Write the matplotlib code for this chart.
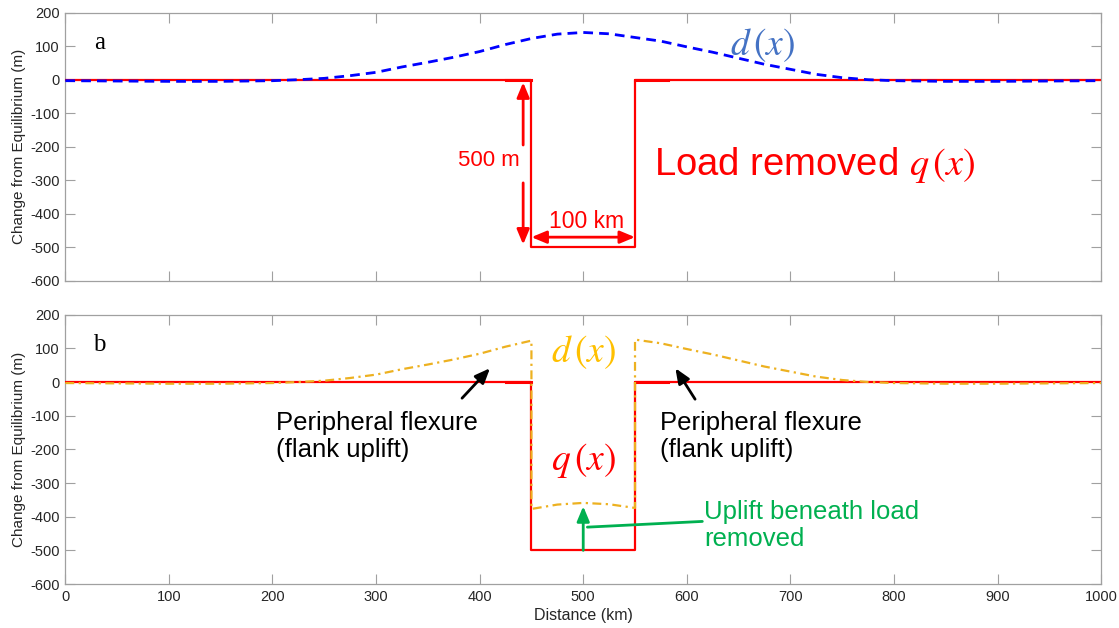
import numpy as np
import matplotlib
matplotlib.use("Agg")
import matplotlib.pyplot as plt

plt.rcParams['font.family'] = ['Liberation Sans', 'DejaVu Sans']
plt.rcParams['mathtext.fontset'] = 'stix'
plt.rcParams['axes.unicode_minus'] = False

# flexural deflection d(x) (km, m)
dist_km = np.array([0, 50, 100, 150, 200, 225, 250, 275, 300, 325, 350, 375, 400, 425, 450,
                    475, 500, 525, 550, 575, 600, 625, 650, 675, 700, 725, 750, 775, 800,
                    850, 900, 950, 1000])
deflection_m = np.array([-3, -4, -5, -5, -3, 0, 4, 12, 22, 38, 52, 67, 84, 105, 123,
                         136, 141, 137, 126, 115, 98, 82, 64, 46, 31, 16, 6, 0, -3,
                         -5, -5, -4, -3])

# removed load q(x)
load_start, load_end = 450, 550
load_depth = 500
load_x = [0, load_start, load_start, load_end, load_end, 1000]
load_m = [0, 0, -load_depth, -load_depth, 0, 0]
# short thicker pieces of the surface line next to the load
edge_left = [425, 450]
edge_right = [550, 582]

x_ticks = np.arange(0, 1001, 100)
y_ticks = np.arange(-600, 201, 100)

red = '#ff0000'
blue = '#0000ff'
orange = '#edb120'
green = '#00b050'
spine_col = '#a0a0a0'
txt_col = '#262626'

fig = plt.figure(figsize=(11.19, 6.28), dpi=100)
ax_a = fig.add_axes([0.0584, 0.553, 0.9256, 0.4268])
ax_b = fig.add_axes([0.0584, 0.070, 0.9256, 0.4289])


def style_axis(ax):
    ax.set_xlim(0, 1000)
    ax.set_ylim(-600, 200)
    ax.set_xticks(x_ticks)
    ax.set_yticks(y_ticks)
    ax.tick_params(direction='in', length=7, width=0.8, top=True, right=True,
                   colors=spine_col, labelcolor=txt_col, labelsize=10.5, pad=4)
    for s in ax.spines.values():
        s.set_color(spine_col)
        s.set_linewidth(0.9)
    ax.set_ylabel('Change from Equilibrium (m)', fontsize=11, color=txt_col, labelpad=3)


def draw_load(ax):
    ax.plot(load_x, load_m, color=red, lw=1.6, zorder=3)
    ax.plot(edge_left, [0, 0], color=red, lw=2.2, zorder=3)
    ax.plot(edge_right, [0, 0], color=red, lw=2.2, zorder=3)


arrow_kw = dict(arrowstyle='-|>,head_length=0.6,head_width=0.25', lw=2,
                mutation_scale=15, shrinkA=0, shrinkB=0)

# ---- panel a ----
style_axis(ax_a)
ax_a.set_xticklabels([])
draw_load(ax_a)
ax_a.plot(dist_km, deflection_m, color=blue, lw=2, linestyle=(0, (3.5, 2.2)), zorder=4)

ax_a.text(33, 110, 'a', fontsize=18, family='Liberation Serif', ha='center', va='center')
ax_a.text(673, 103, r'$d\,(x)$', fontsize=27, color='#4472c4', ha='center', va='center')
ax_a.text(724, -255, r'Load removed $q\,(x)$', fontsize=27.5, color=red, ha='center',
          va='center')
ax_a.text(409, -240, '500 m', fontsize=16, color=red, ha='center', va='center')
ax_a.text(503, -422, '100 km', fontsize=16.5, color=red, ha='center', va='center')

ax_a.annotate('', xy=(442, -8), xytext=(442, -195), arrowprops=dict(color=red, **arrow_kw))
ax_a.annotate('', xy=(442, -492), xytext=(442, -308), arrowprops=dict(color=red, **arrow_kw))
ax_a.annotate('', xy=(450, -470), xytext=(550, -470),
              arrowprops=dict(color=red, arrowstyle='<|-|>,head_length=0.6,head_width=0.25',
                              lw=2, mutation_scale=15, shrinkA=0, shrinkB=0))

# ---- panel b ----
style_axis(ax_b)
ax_b.set_xlabel('Distance (km)', fontsize=11.5, color=txt_col, labelpad=3)
draw_load(ax_b)

left = dist_km <= load_start
inner = (dist_km >= load_start) & (dist_km <= load_end)
right = dist_km >= load_end
net_x = np.concatenate([dist_km[left], dist_km[inner], dist_km[right]])
net_m = np.concatenate([deflection_m[left], deflection_m[inner] - load_depth, deflection_m[right]])
ax_b.plot(net_x, net_m, color=orange, lw=1.6, linestyle=(0, (4, 2, 1, 2)), zorder=4)

ax_b.text(33, 110, 'b', fontsize=18, family='Liberation Serif', ha='center', va='center')
ax_b.text(500, 89, r'$d\,(x)$', fontsize=27, color='#ffc000', ha='center', va='center')
ax_b.text(500, -232, r'$q\,(x)$', fontsize=27, color=red, ha='center', va='center')
ax_b.text(203, -162, 'Peripheral flexure\n(flank uplift)', fontsize=18.5, ha='left',
          va='center', linespacing=1.15)
ax_b.text(574, -162, 'Peripheral flexure\n(flank uplift)', fontsize=18.5, ha='left',
          va='center', linespacing=1.15)
ax_b.text(617, -425, 'Uplift beneath load\nremoved', fontsize=18.5, color=green, ha='left',
          va='center', linespacing=1.15)

ax_b.annotate('', xy=(410, 41), xytext=(383, -48), arrowprops=dict(color='black', **arrow_kw))
ax_b.annotate('', xy=(589, 41), xytext=(608, -51), arrowprops=dict(color='black', **arrow_kw))
ax_b.annotate('', xy=(500, -369), xytext=(500, -500), arrowprops=dict(color=green, **arrow_kw))
ax_b.annotate('', xy=(615, -414), xytext=(504, -431),
              arrowprops=dict(color=green, arrowstyle='-', lw=2, shrinkA=0, shrinkB=0))

fig.savefig('out.png', dpi=100, facecolor='white')
